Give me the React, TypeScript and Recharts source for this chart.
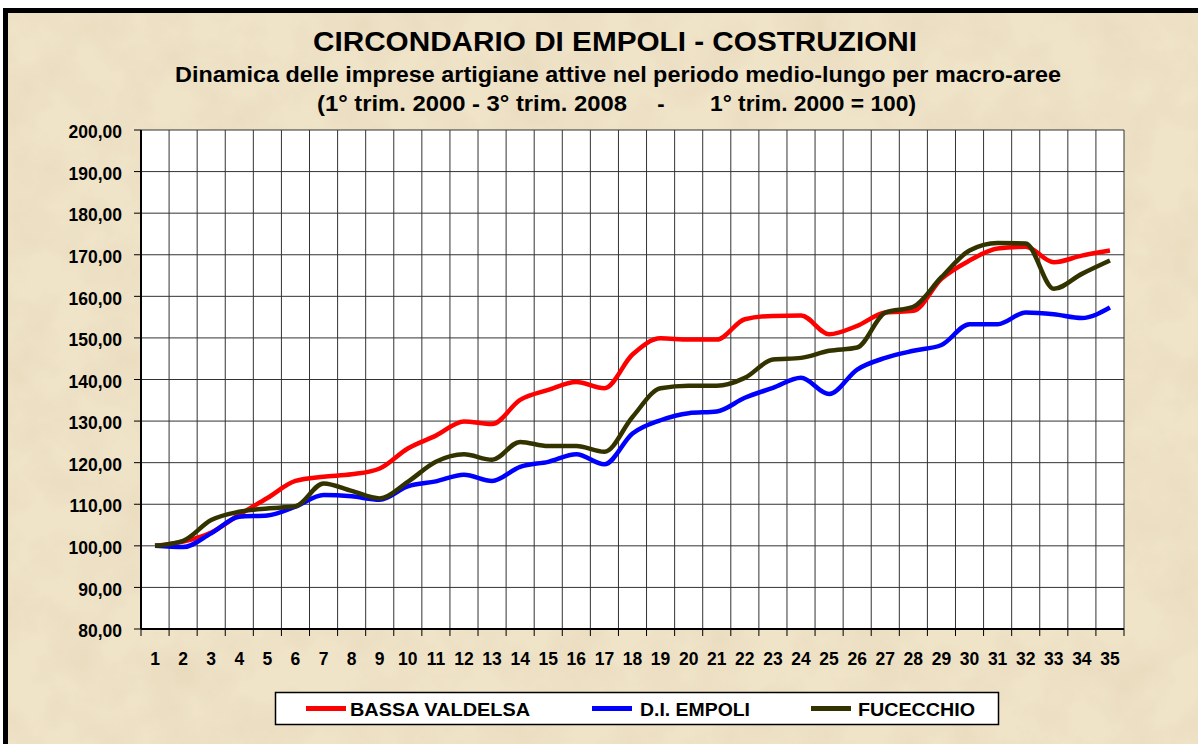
import { LineChart, Line, XAxis, YAxis, CartesianGrid } from "recharts";

const FONT = '"Liberation Sans", Arial, Helvetica, sans-serif';

// trimestri dal 1° trim. 2000 al 3° trim. 2008
const QUARTERS = [
  1, 2, 3, 4, 5, 6, 7, 8, 9, 10, 11, 12, 13, 14, 15, 16, 17, 18,
  19, 20, 21, 22, 23, 24, 25, 26, 27, 28, 29, 30, 31, 32, 33, 34, 35,
];

const BASSA_VALDELSA = [
  100, 101, 103.2, 107.5, 111.5, 115.6, 116.6, 117.2, 118.6, 123.4, 126.5, 129.9,
  129.3, 135.1, 137.5, 139.4, 137.9, 146, 149.9, 149.6, 149.6, 154.5, 155.3, 155.4,
  150.9, 152.9, 156.1, 156.5, 164.2, 168.6, 171.5, 171.9, 168.2, 169.8, 171,
];

const DI_EMPOLI = [
  100, 99.7, 103, 107, 107.3, 109.4, 112.2, 111.9, 111.1, 114.3, 115.5, 117.1,
  115.6, 119, 120.2, 122, 119.6, 127, 130.2, 131.9, 132.3, 135.6, 138, 140.4,
  136.5, 142.4, 145.2, 146.9, 148.3, 153.3, 153.3, 156.1, 155.7, 154.8, 157.3,
];

const FUCECCHIO = [
  100, 101.2, 106.2, 108.2, 109, 109.5, 115, 113.2, 111.4, 115.4, 120.2, 122,
  120.7, 125, 124, 124, 122.6, 131, 137.9, 138.5, 138.5, 140.4, 144.8, 145.2,
  146.9, 147.7, 156.1, 157.5, 164.6, 171, 172.8, 172.7, 161.8, 165.4, 168.6,
];

const Y_TICKS = [80, 90, 100, 110, 120, 130, 140, 150, 160, 170, 180, 190, 200];

const SERIES = [
  { key: "bv", name: "BASSA VALDELSA", color: "#ff0000", values: BASSA_VALDELSA },
  { key: "emp", name: "D.I. EMPOLI", color: "#0000ff", values: DI_EMPOLI },
  { key: "fuc", name: "FUCECCHIO", color: "#333300", values: FUCECCHIO },
];

const data = QUARTERS.map((q, i) => {
  const row: Record<string, number> = { q };
  SERIES.forEach((s) => (row[s.key] = s.values[i]));
  return row;
});

// bordi delle categorie, per griglia e tacche dell'asse X
const BOUNDS = [...QUARTERS.map((q) => q - 0.5), QUARTERS[QUARTERS.length - 1] + 0.5];

const fmt = (v: number) => v.toFixed(2).replace(".", ",");

// posizioni della legenda (x swatch, x testo, larghezza testo)
const LEGEND_POS = [
  { sx: 306, tx: 350, tw: 180 },
  { sx: 592, tx: 640, tw: 110 },
  { sx: 811, tx: 858, tw: 117 },
];

export default function App() {
  return (
    <div
      style={{
        position: "absolute",
        left: 0,
        top: 0,
        width: 1198,
        height: 744,
        overflow: "hidden",
        background: "#fff",
        fontFamily: FONT,
      }}
    >
      <svg width={1198} height={744} style={{ position: "absolute", left: 0, top: 0 }}>
        <defs>
          <filter id="paper" x="0" y="0" width="100%" height="100%">
            <feTurbulence type="fractalNoise" baseFrequency="0.02" numOctaves={5} seed={7} />
            <feColorMatrix
              type="matrix"
              values="0 0 0 0 0.72  0 0 0 0 0.6  0 0 0 0 0.4  0.6 0 0 0 -0.22"
            />
          </filter>
        </defs>
        <rect x={3} y={8} width={1195} height={736} fill="#efe3c8" />
        <rect x={3} y={8} width={1195} height={736} filter="url(#paper)" />
        <rect x={3} y={8} width={1195} height={5} fill="#000" />
        <rect x={3} y={8} width={5} height={736} fill="#000" />
      </svg>

      <LineChart
        width={1198}
        height={744}
        data={data}
        margin={{ top: 130, right: 74, bottom: 67, left: 0 }}
        style={{ position: "absolute", left: 0, top: 0 }}
      >
        <CartesianGrid
          xAxisId="b"
          stroke="#333"
          strokeWidth={1}
          fill="#fff"
          fillOpacity={1}
        />
        <XAxis
          xAxisId="b"
          type="number"
          dataKey="q"
          domain={[0.5, 35.5]}
          ticks={BOUNDS}
          tickFormatter={() => ""}
          tickSize={7}
          height={8}
          axisLine={{ stroke: "#000", strokeWidth: 2 }}
          tickLine={{ stroke: "#000" }}
          interval={0}
        />
        <XAxis
          xAxisId="lab"
          type="number"
          dataKey="q"
          domain={[0.5, 35.5]}
          ticks={QUARTERS}
          interval={0}
          height={40}
          axisLine={false}
          tickLine={false}
          tickSize={0}
          tickMargin={16}
          tick={{ fill: "#000", fontSize: 17.5, fontWeight: 700, fontFamily: FONT }}
        />
        <YAxis
          type="number"
          domain={[80, 200]}
          ticks={Y_TICKS}
          interval={0}
          width={141}
          tickFormatter={fmt}
          tickSize={7}
          tickMargin={12}
          axisLine={{ stroke: "#000", strokeWidth: 2 }}
          tickLine={{ stroke: "#000" }}
          tick={{ fill: "#000", fontSize: 17.5, fontWeight: 700, fontFamily: FONT, dy: 2 }}
        />
        {SERIES.map((s) => (
          <Line
            key={s.key}
            xAxisId="lab"
            dataKey={s.key}
            name={s.name}
            type="monotone"
            stroke={s.color}
            strokeWidth={4.5}
            dot={false}
            isAnimationActive={false}
          />
        ))}
      </LineChart>

      <svg
        width={1198}
        height={744}
        style={{ position: "absolute", left: 0, top: 0, pointerEvents: "none" }}
        fontFamily={FONT}
        fontWeight={700}
      >
        <text x={313} y={51} fontSize={27.5} textLength={604} lengthAdjust="spacingAndGlyphs">
          CIRCONDARIO DI EMPOLI - COSTRUZIONI
        </text>
        <text x={175} y={82} fontSize={22} textLength={886} lengthAdjust="spacingAndGlyphs">
          Dinamica delle imprese artigiane attive nel periodo medio-lungo per macro-aree
        </text>
        <text x={317} y={111} fontSize={22} textLength={310} lengthAdjust="spacingAndGlyphs">
          (1° trim. 2000 - 3° trim. 2008
        </text>
        <text x={661} y={111} fontSize={22} textAnchor="middle">
          -
        </text>
        <text x={710} y={111} fontSize={22} textLength={206} lengthAdjust="spacingAndGlyphs">
          1° trim. 2000 = 100)
        </text>

        <rect x={275.5} y={692.5} width={723} height={32} fill="#fff" stroke="#000" strokeWidth={1.5} />
        {SERIES.map((s, i) => (
          <g key={s.key}>
            <rect x={LEGEND_POS[i].sx} y={706} width={40} height={5} fill={s.color} />
            <text
              x={LEGEND_POS[i].tx}
              y={716}
              fontSize={18}
              textLength={LEGEND_POS[i].tw}
              lengthAdjust="spacingAndGlyphs"
            >
              {s.name}
            </text>
          </g>
        ))}
      </svg>
    </div>
  );
}
